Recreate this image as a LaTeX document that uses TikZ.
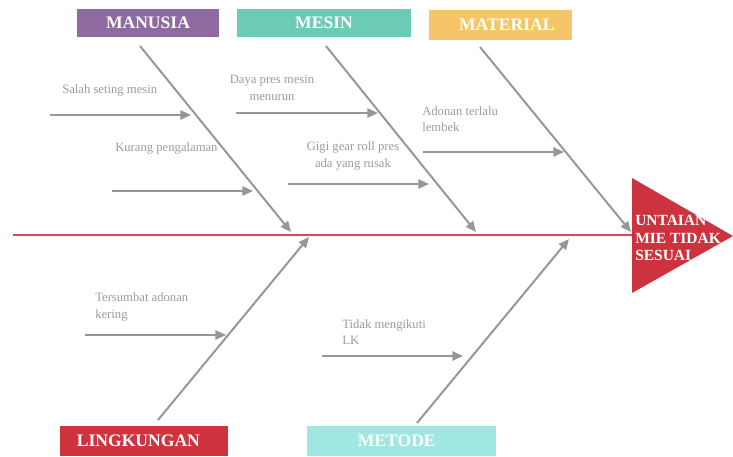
\documentclass[tikz,border=0pt]{standalone}
\usepackage{fontspec}
\setmainfont{Liberation Serif}
\usepackage{xcolor}
\usepackage{tikz}
\usetikzlibrary{arrows.meta, positioning}

\definecolor{manusiaC}{RGB}{142,106,160}
\definecolor{mesinC}{RGB}{109,202,180}
\definecolor{materialC}{RGB}{246,197,105}
\definecolor{lingkunganC}{RGB}{206,52,62}
\definecolor{metodeC}{RGB}{160,230,225}
\definecolor{headC}{RGB}{204,51,63}
\definecolor{spineC}{RGB}{222,72,84}
\definecolor{boneC}{RGB}{150,150,150}
\definecolor{causeC}{RGB}{155,155,155}

\begin{document}
\begin{tikzpicture}[x=0.025cm, y=-0.025cm,
    cat/.style={rectangle, draw=none, text=white, font=\fontsize{12.5}{14}\selectfont\bfseries, inner sep=0pt},
    cause/.style={text=causeC, font=\fontsize{9}{11.6}\selectfont, inner sep=0pt, align=left},
    bone/.style={-{Triangle[length=7.5pt,width=6.5pt]}, draw=boneC, line width=1.4pt},
    spine/.style={draw=spineC, line width=1.8pt}
]
\useasboundingbox (0,0) rectangle (733,456);

% categories
\node[cat, fill=manusiaC, minimum width=142*0.025cm, minimum height=28*0.025cm] (manusia) at (148,23) {MANUSIA};
\node[cat, fill=mesinC, minimum width=174*0.025cm, minimum height=28*0.025cm] (mesin) at (324,23) {MESIN};
\node[cat, fill=materialC, minimum width=143*0.025cm, minimum height=30*0.025cm, text width=143*0.025cm, align=right] (material) at (500,25) {MATERIAL\hspace*{12pt}};
\node[cat, fill=lingkunganC, minimum width=168*0.025cm, minimum height=30*0.025cm] (lingkungan) at (144,441) {\hspace*{-8pt}LINGKUNGAN};
\node[cat, fill=metodeC, minimum width=189*0.025cm, minimum height=30*0.025cm] (metode) at (401,441) {\hspace*{-6pt}METODE};

% effect
\fill[headC] (632,178) -- (733,236) -- (632,293) -- cycle;
\node[anchor=west, text=white, font=\fontsize{11}{12.6}\selectfont\bfseries, align=left, inner sep=0pt] (effect) at (635,238) {UNTAIAN\\MIE TIDAK\\SESUAI};

\coordinate (tail) at (13,235);
\coordinate (head) at (632,235);
\draw[spine] (tail) -- (head);

% main bones
\coordinate (b1s) at (140,46);  \coordinate (b1e) at (291,232);
\coordinate (b2s) at (326,46);  \coordinate (b2e) at (476,232);
\coordinate (b3s) at (480,47);  \coordinate (b3e) at (631,232);
\coordinate (b4s) at (158,420); \coordinate (b4e) at (309,237);
\coordinate (b5s) at (417,423); \coordinate (b5e) at (569,239);
\draw[bone] (b1s) -- (b1e);
\draw[bone] (b2s) -- (b2e);
\draw[bone] (b3s) -- (b3e);
\draw[bone] (b4s) -- (b4e);
\draw[bone] (b5s) -- (b5e);

% causes
\coordinate (c1s) at (50,115);  \coordinate (c1e) at (191,115);
\coordinate (c2s) at (112,191); \coordinate (c2e) at (253,191);
\coordinate (c3s) at (236,113); \coordinate (c3e) at (378,113);
\coordinate (c4s) at (288,184); \coordinate (c4e) at (429,184);
\coordinate (c5s) at (423,152); \coordinate (c5e) at (564,152);
\coordinate (c6s) at (85,335);  \coordinate (c6e) at (226,335);
\coordinate (c7s) at (322,356); \coordinate (c7e) at (463,356);
\foreach \i in {1,...,7}
    \draw[bone] (c\i s) -- (c\i e);

\node[cause, anchor=west] (t1) at (62,90) {Salah seting mesin};
\node[cause, anchor=west] (t2) at (115,148) {Kurang pengalaman};
\node[cause, align=center] (t3) at (272,88) {Daya pres mesin\\menurun};
\node[cause, align=center] (t4) at (353,156) {Gigi gear roll pres\\ada yang rusak};
\node[cause, anchor=west] (t5) at (422,119) {Adonan terlalu\\lembek};
\node[cause, anchor=west] (t6) at (95,307) {Tersumbat adonan\\kering};
\node[cause, anchor=west] (t7) at (342,332) {Tidak mengikuti\\LK};
\end{tikzpicture}
\end{document}
